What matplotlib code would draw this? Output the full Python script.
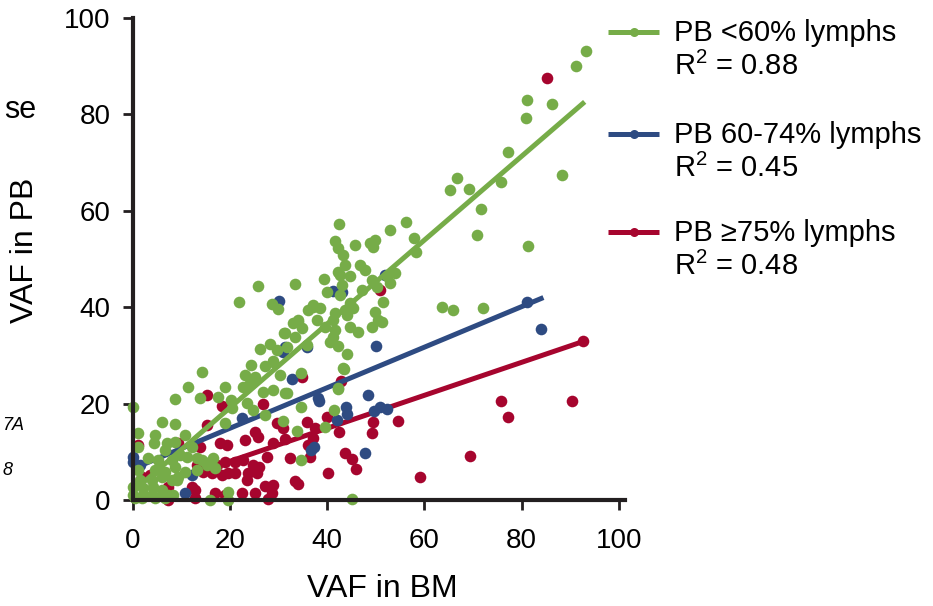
import matplotlib
matplotlib.use("Agg")
import matplotlib.pyplot as plt
from matplotlib.lines import Line2D

plt.rcParams['font.family'] = ['Liberation Sans', 'DejaVu Sans']
plt.rcParams['mathtext.fontset'] = 'custom'
plt.rcParams['mathtext.rm'] = 'Liberation Sans'
plt.rcParams['mathtext.it'] = 'Liberation Sans:italic'

# ---------------- data ----------------
green_pts = [
    (93.2, 93.2), (91.2, 90.0), (81.1, 83.0), (86.2, 82.2), (80.9, 79.3), (77.2, 72.2),
    (66.7, 66.8), (65.2, 64.3), (69.1, 64.5), (75.7, 66.0), (88.3, 67.4), (71.6, 60.4),
    (56.2, 57.7), (57.8, 54.4), (70.8, 55.0), (81.3, 52.7), (58.2, 51.5), (63.6, 40.0),
    (65.8, 39.4), (72.0, 39.8), (51.2, 36.9),
    (42.4, 57.3), (52.9, 56.0), (41.6, 53.7), (42.2, 52.3), (43.2, 50.8), (45.7, 52.9),
    (48.8, 53.3), (49.8, 53.9), (49.4, 52.5), (43.6, 48.8), (46.7, 48.8), (47.7, 47.7),
    (42.2, 47.3), (44.7, 46.5), (39.3, 45.9), (42.6, 46.7), (49.2, 45.6), (52.3, 46.5),
    (53.9, 47.1), (52.9, 45.0), (33.3, 44.8), (43.0, 44.6), (47.1, 43.6), (50.2, 44.2),
    (39.9, 43.2), (42.6, 42.5), (44.7, 40.9), (51.4, 41.1), (37.0, 40.5), (38.5, 39.8),
    (36.0, 39.4), (41.6, 38.8), (43.6, 39.4), (45.3, 39.8), (49.8, 39.0), (50.4, 37.3),
    (49.2, 35.9), (44.0, 38.4), (34.0, 37.3), (32.9, 36.7), (37.9, 37.3), (41.2, 37.3),
    (39.5, 35.9), (41.6, 35.3), (44.7, 35.9), (46.3, 34.9), (31.3, 34.6), (33.3, 33.8),
    (41.2, 33.8), (40.5, 32.8), (42.2, 31.9), (44.0, 30.3), (35.8, 32.2), (31.7, 31.7),
    (43.2, 27.4), (42.2, 23.2), (31.3, 22.2),
    (25.7, 44.4), (21.8, 41.1), (28.6, 40.7), (29.8, 39.6), (37.0, 40.0), (34.0, 36.9),
    (34.8, 35.7), (31.1, 34.6), (26.1, 31.3), (28.2, 32.4), (29.6, 31.1), (28.8, 28.8),
    (24.3, 28.0), (24.1, 24.3), (22.6, 23.4), (18.9, 23.4), (20.2, 20.7), (14.2, 26.6),
    (17.5, 21.4), (27.2, 27.8), (28.8, 28.6), (23.0, 25.9), (25.1, 25.5), (30.2, 25.9),
    (26.7, 22.4), (28.8, 22.8), (31.7, 22.2), (23.5, 20.1), (24.7, 18.7), (27.2, 17.6),
    (43.4, 27.2), (34.6, 26.3), (42.2, 23.0), (34.6, 19.3), (41.4, 18.7), (30.9, 16.4),
    (33.7, 14.3), (39.5, 15.1), (34.6, 8.3), (45.1, 0.2),
    (11.3, 23.4), (8.6, 21.0), (13.8, 21.2), (0.0, 19.3), (20.4, 19.1), (6.0, 16.2),
    (8.6, 15.8), (1.0, 13.9), (4.5, 13.5), (10.7, 13.5), (18.9, 16.0), (4.3, 11.8),
    (7.0, 11.8), (1.0, 11.0), (8.6, 12.0), (12.1, 11.0), (3.1, 8.7), (6.6, 10.4),
    (5.1, 8.3), (8.0, 8.3), (9.7, 9.3), (11.1, 8.9), (13.2, 8.7), (14.2, 8.3),
    (15.8, 7.9), (16.5, 8.7), (15.2, 7.3), (13.2, 6.2), (16.9, 6.6), (1.0, 6.2),
    (4.5, 6.2), (6.6, 5.8), (8.6, 6.8), (10.7, 5.8), (1.4, 4.1), (3.9, 4.1),
    (6.0, 4.8), (8.0, 4.1), (9.1, 4.1), (9.3, 4.8), (0.0, 2.7), (2.1, 2.5),
    (4.1, 2.7), (6.0, 2.1), (0.0, 1.0), (2.1, 1.0), (3.9, 1.0), (6.0, 1.0),
    (7.2, 1.0), (8.2, 1.0), (0.4, 0.4), (1.8, 0.4), (4.5, 0.4), (6.6, 0.4),
    (15.8, 0.0), (19.5, 0.0), (19.5, 1.7),
]
blue_pts = [
    (81.1, 41.1), (84.0, 35.5), (52.3, 18.9), (50.8, 19.3), (32.7, 25.1), (38.3, 20.5),
    (48.4, 21.8), (43.8, 19.3), (44.0, 17.8), (42.0, 16.6), (49.6, 18.5), (37.2, 11.0),
    (36.6, 10.4), (47.7, 9.8), (22.4, 17.0), (51.9, 46.7), (41.2, 43.4), (43.0, 43.2),
    (35.8, 31.7), (31.3, 31.7), (50.0, 31.9), (38.1, 21.2), (30.0, 41.2), (30.9, 30.7),
    (12.1, 5.2), (10.7, 1.5), (0.0, 8.9), (0.0, 7.9), (1.4, 7.3),
]
red_pts = [
    (85.2, 87.6), (92.6, 33.0), (75.7, 20.5), (90.3, 20.5), (77.2, 17.2), (54.5, 16.4),
    (69.3, 9.1), (59.1, 4.8), (34.8, 25.5), (42.8, 24.7), (26.7, 19.9), (29.6, 16.0),
    (30.9, 14.9), (35.8, 16.2), (37.4, 14.9), (39.9, 17.2), (42.4, 14.1), (49.4, 16.2),
    (49.2, 13.9), (23.0, 12.4), (25.1, 14.1), (25.7, 13.1), (28.8, 11.8), (31.3, 12.7),
    (37.0, 12.9), (36.0, 11.4), (32.3, 8.7), (36.4, 8.9), (27.6, 8.9), (43.6, 9.8),
    (45.1, 8.5), (45.9, 6.4), (40.1, 5.6), (22.6, 8.3), (24.7, 7.3), (25.9, 6.8),
    (23.7, 5.6), (25.5, 5.6), (23.5, 4.1), (33.3, 3.9), (34.0, 3.3), (27.2, 2.9),
    (28.8, 3.1), (25.1, 1.5), (28.6, 1.5), (27.8, 0.2), (50.8, 43.6),
    (15.2, 21.8), (18.3, 19.5), (15.2, 15.6), (1.0, 11.4), (9.3, 11.8), (17.9, 11.8),
    (19.3, 11.4), (13.8, 11.0), (13.2, 7.3), (17.3, 7.3), (19.0, 7.9), (21.0, 7.9),
    (14.4, 5.8), (16.3, 5.6), (18.3, 5.2), (19.5, 5.6), (21.0, 5.6), (1.9, 4.8),
    (3.5, 5.2), (7.2, 2.7), (12.1, 2.7), (12.8, 2.1), (7.2, 0.0), (12.8, 0.4),
    (16.9, 1.5), (22.4, 1.5), (18.9, 1.0),
]
green_fit_x = [0.0, 93.0]
green_fit_y = [1.8, 82.6]
blue_fit_x = [0.0, 84.5]
blue_fit_y = [6.5, 42.0]
red_fit_x = [14.0, 93.0]
red_fit_y = [6.0, 33.0]

group_labels = ["PB <60% lymphs", "PB 60-74% lymphs", "PB \u226575% lymphs"]
r2_values = ["0.88", "0.45", "0.48"]
ticks = [0, 20, 40, 60, 80, 100]

GREEN = "#76AC48"
BLUE = "#2E4B82"
RED = "#A6052E"
DARK = "#231F20"

# ---------------- figure ----------------
W, H = 933, 606
fig = plt.figure(figsize=(W / 100, H / 100), dpi=100)
ax = fig.add_axes([133 / W, 1 - 500 / H, (625 - 133) / W, (500 - 18) / H])
ax.set_xlim(0, 101.3)
ax.set_ylim(0, 100)

S = 70
def xy(p):
    return [a for a, b in p], [b for a, b in p]

rx, ry = xy(red_pts)
bx, by = xy(blue_pts)
gx, gy = xy(green_pts)

ax.plot(red_fit_x, red_fit_y, color=RED, lw=3.6, solid_capstyle='butt', zorder=2)
ax.scatter(rx, ry, s=S, color=RED, linewidths=0, clip_on=False, zorder=3)
ax.plot(blue_fit_x, blue_fit_y, color=BLUE, lw=3.6, solid_capstyle='butt', zorder=4)
ax.scatter(bx, by, s=S, color=BLUE, linewidths=0, clip_on=False, zorder=5)
ax.plot(green_fit_x, green_fit_y, color=GREEN, lw=3.6, solid_capstyle='butt', zorder=6)
ax.scatter(gx, gy, s=S, color=GREEN, linewidths=0, clip_on=False, zorder=7)

for sp in ['top', 'right']:
    ax.spines[sp].set_visible(False)
for sp in ['left', 'bottom']:
    ax.spines[sp].set_linewidth(3)
    ax.spines[sp].set_color(DARK)
    ax.spines[sp].set_zorder(10)
ax.set_xticks(ticks)
ax.set_yticks(ticks)
ax.tick_params(direction='out', length=7.2, width=2, color=DARK, labelsize=20)
ax.tick_params(axis='x', pad=13)
ax.tick_params(axis='y', pad=9)

fig.text(382 / W, 1 - 597 / H, "VAF in BM", ha='center', va='baseline', fontsize=23)
fig.text(33 / W, 1 - 250 / H, "VAF in PB", ha='center', va='baseline', fontsize=23,
         rotation=90, rotation_mode='anchor')

# fragments of neighbouring text at the left edge
fig.text(4 / W, 1 - 118 / H, "se", ha='left', va='baseline', fontsize=22)
fig.text(24 / W, 1 - 430 / H, "7A", ha='right', va='baseline', fontsize=13, style='italic')
fig.text(13 / W, 1 - 475 / H, "8", ha='right', va='baseline', fontsize=13, style='italic')

# legend
leg_colors = [GREEN, BLUE, RED]
handle_y = [32, 134, 232]
for lab, r2, c, hy in zip(group_labels, r2_values, leg_colors, handle_y):
    fy = 1 - hy / H
    fig.add_artist(Line2D([608 / W, 659 / W], [fy, fy], transform=fig.transFigure,
                          color=c, lw=3.6, solid_capstyle='butt'))
    fig.add_artist(Line2D([633.5 / W], [fy], transform=fig.transFigure, color=c,
                          marker='o', markersize=6.5, markeredgewidth=0))
    fig.text(674 / W, 1 - (hy + 9) / H, lab, ha='left', va='baseline', fontsize=21)
    fig.text(674 / W, 1 - (hy + 43) / H, r"$\mathregular{R^2}$ = " + r2,
             ha='left', va='baseline', fontsize=21)

fig.savefig("out.png", dpi=100)
